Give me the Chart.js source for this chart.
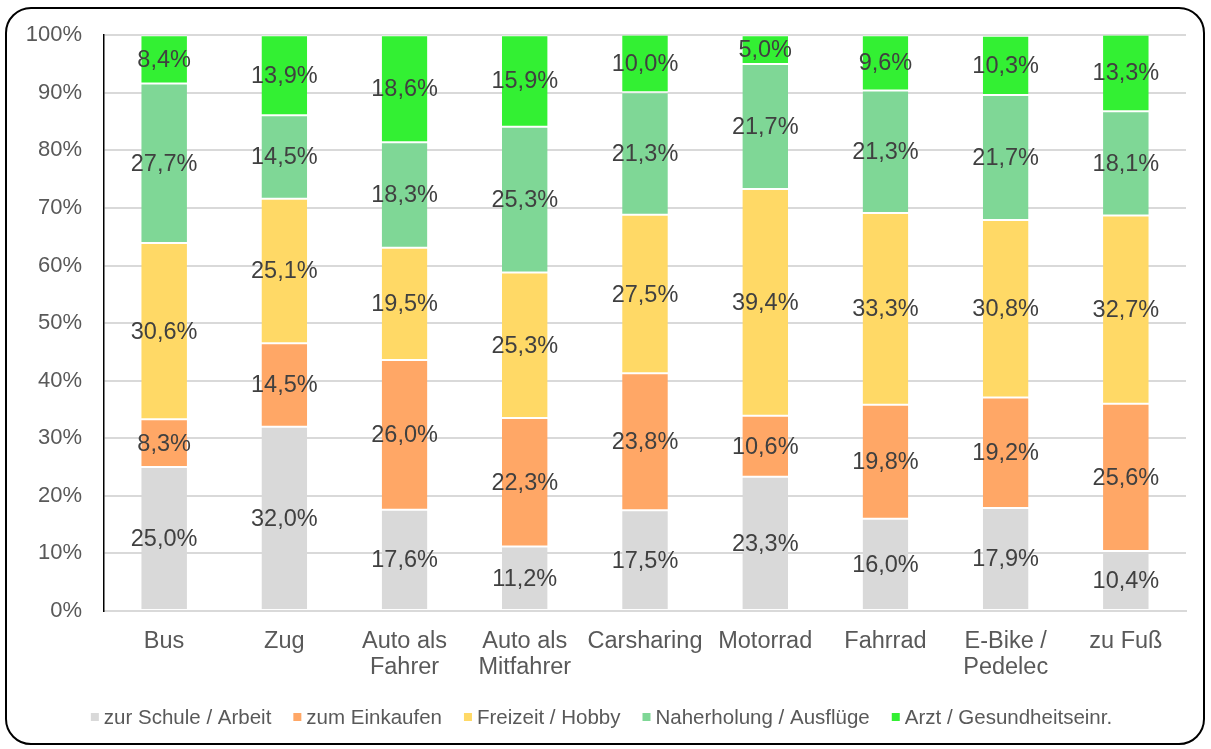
<!DOCTYPE html>
<html>
<head>
<meta charset="utf-8">
<script src="https://cdn.jsdelivr.net/npm/chart.js@4"></script>
<style>
  html, body { margin: 0; padding: 0; background: #fff; }
  #wrap { position: relative; width: 1211px; height: 749px; }
  #frame {
    position: absolute; left: 5px; top: 7px; width: 1200px; height: 738px;
    border: 2px solid #000; border-radius: 26px; box-sizing: border-box; pointer-events: none;
  }
</style>
</head>
<body>
<div id="wrap">
  <canvas id="myChart" width="1211" height="749"></canvas>
  <div id="frame"></div>
</div>
<script>
// categories and series (percent)
const categories = ["Bus", "Zug", ["Auto als", "Fahrer"], ["Auto als", "Mitfahrer"], "Carsharing", "Motorrad", "Fahrrad", ["E-Bike /", "Pedelec"], "zu Fuß"];
const schuleArbeit = [25.0, 32.0, 17.6, 11.2, 17.5, 23.3, 16.0, 17.9, 10.4];
const einkaufen    = [8.3, 14.5, 26.0, 22.3, 23.8, 10.6, 19.8, 19.2, 25.6];
const freizeit     = [30.6, 25.1, 19.5, 25.3, 27.5, 39.4, 33.3, 30.8, 32.7];
const naherholung  = [27.7, 14.5, 18.3, 25.3, 21.3, 21.7, 21.3, 21.7, 18.1];
const arzt         = [8.4, 13.9, 18.6, 15.9, 10.0, 5.0, 9.6, 10.3, 13.3];
const yTicks = [0, 10, 20, 30, 40, 50, 60, 70, 80, 90, 100];

const FONT = "'Liberation Sans', Arial, sans-serif";

// draws the value in the middle of each segment
const segmentLabels = {
  id: "segmentLabels",
  afterDatasetsDraw(chart) {
    const ctx = chart.ctx;
    ctx.save();
    ctx.font = "23.5px " + FONT;
    ctx.fillStyle = "#404040";
    ctx.textAlign = "center";
    ctx.textBaseline = "middle";
    chart.data.datasets.forEach((ds, i) => {
      chart.getDatasetMeta(i).data.forEach((bar, j) => {
        const { x, y, base } = bar.getProps(["x", "y", "base"], true);
        const txt = ds.data[j].toFixed(1).replace(".", ",") + "%";
        ctx.fillText(txt, x, (y + base) / 2 + 1);
      });
    });
    ctx.restore();
  }
};

// legend under the chart, small squares close to the text
const bottomLegend = {
  id: "bottomLegend",
  afterDraw(chart) {
    const ctx = chart.ctx;
    const box = 8, gap = 5, spacing = 22, yMid = 717;
    ctx.save();
    ctx.font = "20.5px " + FONT;
    ctx.textBaseline = "middle";
    ctx.textAlign = "left";
    const items = chart.data.datasets.map(ds => ({
      label: ds.label, color: ds.backgroundColor, w: ctx.measureText(ds.label).width
    }));
    const total = items.reduce((s, it) => s + box + gap + it.w, 0) + spacing * (items.length - 1);
    let x = (chart.width - total) / 2 - 4;
    items.forEach(it => {
      ctx.fillStyle = it.color;
      ctx.fillRect(x, yMid - box / 2, box, box);
      x += box + gap;
      ctx.fillStyle = "#595959";
      ctx.fillText(it.label, x, yMid + 1);
      x += it.w + spacing;
    });
    ctx.restore();
  }
};

function series(label, data, color) {
  return {
    label: label,
    data: data,
    backgroundColor: color,
    borderColor: "#ffffff",
    borderWidth: { top: 1, bottom: 1, left: 0, right: 0 },
    borderSkipped: false,
    categoryPercentage: 1,
    barPercentage: 0.38
  };
}

document.addEventListener("DOMContentLoaded", () => {
  const ctx = document.getElementById("myChart");
  new Chart(ctx, {
    type: "bar",
    data: {
      labels: categories,
      datasets: [
        series("zur Schule / Arbeit", schuleArbeit, "#d9d9d9"),
        series("zum Einkaufen", einkaufen, "#ffa766"),
        series("Freizeit / Hobby", freizeit, "#ffd966"),
        series("Naherholung / Ausflüge", naherholung, "#7fd796"),
        series("Arzt / Gesundheitseinr.", arzt, "#33f033")
      ]
    },
    options: {
      responsive: false,
      animation: false,
      layout: { padding: { top: 28, right: 25, bottom: 52, left: 0 } },
      plugins: {
        tooltip: { enabled: false },
        legend: { display: false }
      },
      scales: {
        x: {
          stacked: true,
          grid: { display: false },
          border: { color: "#d9d9d9", width: 2 },
          ticks: {
            color: "#595959",
            font: { family: FONT, size: 23.5, lineHeight: 1.1 },
            padding: 10, maxRotation: 0, autoSkip: false
          },
          afterFit(scale) { scale.height = 86; }
        },
        y: {
          stacked: true,
          min: 0,
          max: 100,
          afterBuildTicks(scale) { scale.ticks = yTicks.map(v => ({ value: v })); },
          grid: { color: "#d9d9d9", lineWidth: 2, drawTicks: false },
          border: { color: "#000000", width: 1.5 },
          ticks: {
            color: "#595959",
            font: { family: FONT, size: 22 },
            padding: 22,
            callback: v => v + "%"
          },
          afterFit(scale) { scale.width = 104; }
        }
      }
    },
    plugins: [segmentLabels, bottomLegend]
  });
});
</script>
</body>
</html>
